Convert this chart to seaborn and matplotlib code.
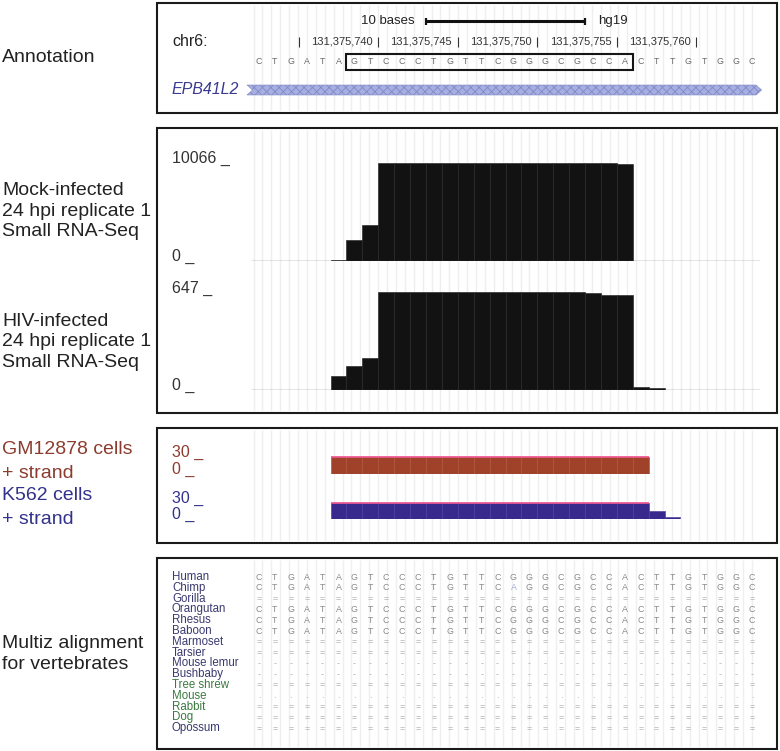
import numpy as np
import pandas as pd
import matplotlib
matplotlib.use('Agg')
import matplotlib.pyplot as plt
from matplotlib.patches import Rectangle, Polygon
import seaborn as sns

# ---- data -------------------------------------------------------------
chrom = 'chr6:'
assembly = 'hg19'
view_start = 131375732          # left edge of the 32 base window
n_bases = 32
ref_seq = 'CTGATAGTCCCTGTTCGGGCGCCACTTGTGGC'
boxed = (6, 24)                 # boxed 18-mer, offsets in window
ruler_ticks = [131375735, 131375740, 131375745, 131375750, 131375755, 131375760]
ruler_labels = ['', '131,375,740', '131,375,745', '131,375,750', '131,375,755', '131,375,760']
scale_bar = (131375743, 131375753)
gene_name = 'EPB41L2'

# small RNA-seq read coverage per base
mock_first = 5
mock_cov = [50, 2100, 3700, 10066, 10066, 10066, 10066, 10066, 10066, 10066,
            10066, 10066, 10066, 10066, 10066, 10066, 10066, 10066, 9950]
mock_max = 10066
hiv_first = 5
hiv_cov = [90, 160, 215, 647, 647, 647, 647, 647, 647, 647, 647, 647, 647,
           647, 647, 647, 640, 633, 628, 20, 10]
hiv_max = 647

# ENCODE small RNA + strand signal (values above 30 are clipped)
enc_max = 30
gm_first = 4
gm_cov = [0.5, 48, 55, 61, 66, 70, 72, 74, 75, 75, 75, 74, 73, 72, 70, 68,
          65, 61, 56, 50, 42]
k562_first = 4
k562_cov = [0.5, 44, 51, 57, 62, 66, 68, 70, 71, 71, 71, 70, 69, 67, 65, 63,
            60, 56, 51, 45, 38, 15, 4]

species = ['Human', 'Chimp', 'Gorilla', 'Orangutan', 'Rhesus', 'Baboon',
           'Marmoset', 'Tarsier', 'Mouse lemur', 'Bushbaby', 'Tree shrew',
           'Mouse', 'Rabbit', 'Dog', 'Opossum']
species_group = ['primate'] * 10 + ['other'] * 4 + ['primate']
aln_rows = [
    'CTGATAGTCCCTGTTCGGGCGCCACTTGTGGC',
    'CTGATAGTCCCTGTTCAGGCGCCACTTGTGGC',
    '================================',
    'CTGATAGTCCCTGTTCGGGCGCCACTTGTGGC',
    'CTGATAGTCCCTGTTCGGGCGCCACTTGTGGC',
    'CTGATAGTCCCTGTTCGGGCGCCACTTGTGGC',
    '================================',
    '================================',
    '--------------------------------',
    '--------------------------------',
    '================================',
    '................................',
    '================================',
    '================================',
    '================================',
]

# ---- layout -----------------------------------------------------------
W, H = 780, 751
X0, X1 = 251, 760
boxes = [(3, 113), (128, 413), (428, 543), (558, 749)]
lab_x = (172 - X0) / (X1 - X0)

sns.set_theme(style='white')
plt.rcParams['font.family'] = ['Liberation Sans', 'DejaVu Sans']
plt.rcParams['hatch.linewidth'] = 0.6

fig = plt.figure(figsize=(W / 100, H / 100), dpi=100)


def rect(x0, y0, x1, y1):
    return [x0 / W, 1 - y1 / H, (x1 - x0) / W, (y1 - y0) / H]


def track_ax(y0, y1):
    ax = fig.add_axes(rect(X0, y0, X1, y1))
    ax.set_facecolor('none')
    ax.set_xlim(view_start, view_start + n_bases)
    return ax


# faint guidelines (every ~9 px, like the browser image)
guides = np.arange(2.5, X1 - X0 + 1, 8.9) / (X1 - X0)
for top, bot in boxes:
    bg = track_ax(top + 2, bot - 2)
    bg.vlines(guides, 0, 1, transform=bg.transAxes, color='#efeff2', lw=1.0)
    bg.set_ylim(0, 1)
    bg.axis('off')

# annotation: ruler, sequence, gene
ann = track_ax(3, 113)
ann.set_ylim(113, 3)
ann.axis('off')
ann.plot(scale_bar, [21, 21], color='#111', lw=2.2, solid_capstyle='butt')
ann.vlines(scale_bar, 17.5, 24.5, color='#111', lw=1.6)
ann.text(scale_bar[0] - 0.7, 21, '10 bases', ha='right', va='center', fontsize=9.5, color='#222')
ann.text(scale_bar[1] + 0.8, 21, assembly, ha='left', va='center', fontsize=9.5, color='#222')
ann.vlines(ruler_ticks, 37, 47, color='#333', lw=0.8)
for t, lab in zip(ruler_ticks, ruler_labels):
    ann.text(t - 0.35, 42, lab, ha='right', va='center', fontsize=8, color='#333')
for i, b in enumerate(ref_seq):
    ann.text(view_start + i + 0.5, 62, b, ha='center', va='center', fontsize=6.4, color='#6a6a6a')
ann.add_patch(Rectangle((view_start + boxed[0], 54), boxed[1] - boxed[0], 16,
                        fill=False, ec='#151515', lw=1.5))
g0, g1 = view_start - 0.25, view_start + n_bases + 0.1
ann.add_patch(Polygon([(g0, 85), (g1 - 0.35, 85), (g1, 90), (g1 - 0.35, 95), (g0, 95), (g0 + 0.35, 90)],
                      closed=True, fc='#a7aee0', ec='#7f89c8', hatch='xxxx', lw=0.4, clip_on=False))


def coverage(ax, first, cov, vmax, color, edge):
    cov = np.asarray(cov, dtype=float)
    left = view_start + first
    df = pd.DataFrame({'pos': left + np.arange(len(cov)) + 0.5,
                       'reads': np.minimum(cov, vmax)})
    sns.histplot(data=df, x='pos', weights='reads', binwidth=1,
                 binrange=(left, left + len(cov)), color=color, edgecolor=edge,
                 linewidth=0.45, alpha=1, ax=ax)
    clipped = cov > vmax
    if clipped.any():
        p = df['pos'].to_numpy()[clipped]
        ax.hlines(np.full(clipped.sum(), vmax), p - 0.5, p + 0.5,
                  color='#ec4f8a', lw=1.2, clip_on=False)
    ax.set_xlim(view_start, view_start + n_bases)
    ax.set_ylim(0, vmax)
    ax.axis('off')


def ylab(ax, vmax, color, size=11.5):
    ax.text(lab_x, vmax, f'{vmax} _', transform=ax.get_yaxis_transform(), ha='left',
            va='baseline', fontsize=size, color=color, clip_on=False)
    ax.text(lab_x, 0, '0 _', transform=ax.get_yaxis_transform(), ha='left',
            va='baseline', fontsize=size, color=color, clip_on=False)


mock_ax = track_ax(163, 260.7)
mock_ax.axhline(0, color='#333', lw=0.9)
coverage(mock_ax, mock_first, mock_cov, mock_max, '#121212', '#272727')
ylab(mock_ax, mock_max, '#333')

hiv_ax = track_ax(292.4, 390)
hiv_ax.axhline(0, color='#333', lw=0.9)
coverage(hiv_ax, hiv_first, hiv_cov, hiv_max, '#121212', '#272727')
ylab(hiv_ax, hiv_max, '#333')

gm_ax = track_ax(457, 474)
coverage(gm_ax, gm_first, gm_cov, enc_max, '#a0412a', '#ad5540')
ylab(gm_ax, enc_max, '#8c3c2e')

k_ax = track_ax(503, 519)
coverage(k_ax, k562_first, k562_cov, enc_max, '#372a8c', '#4a3ea0')
ylab(k_ax, enc_max, '#32328c')

# multiz alignment
mz = track_ax(571.6, 733.6)
mz.set_ylim(len(species) - 0.5, -0.5)
mz.axis('off')
sp_col = {'primate': '#3a3a70', 'other': '#3a7a3e'}
for r, (name, grp, row) in enumerate(zip(species, species_group, aln_rows)):
    mz.text(lab_x, r, name, transform=mz.get_yaxis_transform(), ha='left', va='center',
            fontsize=8.3, color=sp_col[grp], clip_on=False)
    for i, b in enumerate(row):
        c = '#8a8a8a'
        if b in 'ACGT' and b != ref_seq[i]:
            c = '#a4aed0'
        if b in '=-.':
            c = '#b0b0b0'
        mz.text(view_start + i + 0.5, r, b, ha='center', va='center', fontsize=6.4, color=c)

# frame, boxes and track names
frame = fig.add_axes([0, 0, 1, 1])
frame.set_xlim(0, W)
frame.set_ylim(H, 0)
frame.axis('off')
for top, bot in boxes:
    frame.add_patch(Rectangle((157, top), 777 - 157, bot - top, fill=False, ec='#1a1a1a', lw=1.5))
frame.text(172, 42, chrom, ha='left', va='center', fontsize=11.5, color='#222')
frame.text(172, 90, gene_name, ha='left', va='center', fontsize=11.5, color='#3a3a90', style='italic')

big = dict(ha='left', va='center', fontsize=14, color='#222', linespacing=1.24)
frame.text(2, 58, 'Annotation', **big)
frame.text(2, 211, 'Mock-infected\n24 hpi replicate 1\nSmall RNA-Seq', **big)
frame.text(2, 342, 'HIV-infected\n24 hpi replicate 1\nSmall RNA-Seq', **big)
frame.text(2, 450, 'GM12878 cells', **{**big, 'color': '#8c3c2e'})
frame.text(2, 473, '+ strand', **{**big, 'color': '#8c3c2e'})
frame.text(2, 496, 'K562 cells', **{**big, 'color': '#32328c'})
frame.text(2, 519, '+ strand', **{**big, 'color': '#32328c'})
frame.text(2, 654, 'Multiz alignment\nfor vertebrates', **big)

fig.savefig('out.png', dpi=100)
